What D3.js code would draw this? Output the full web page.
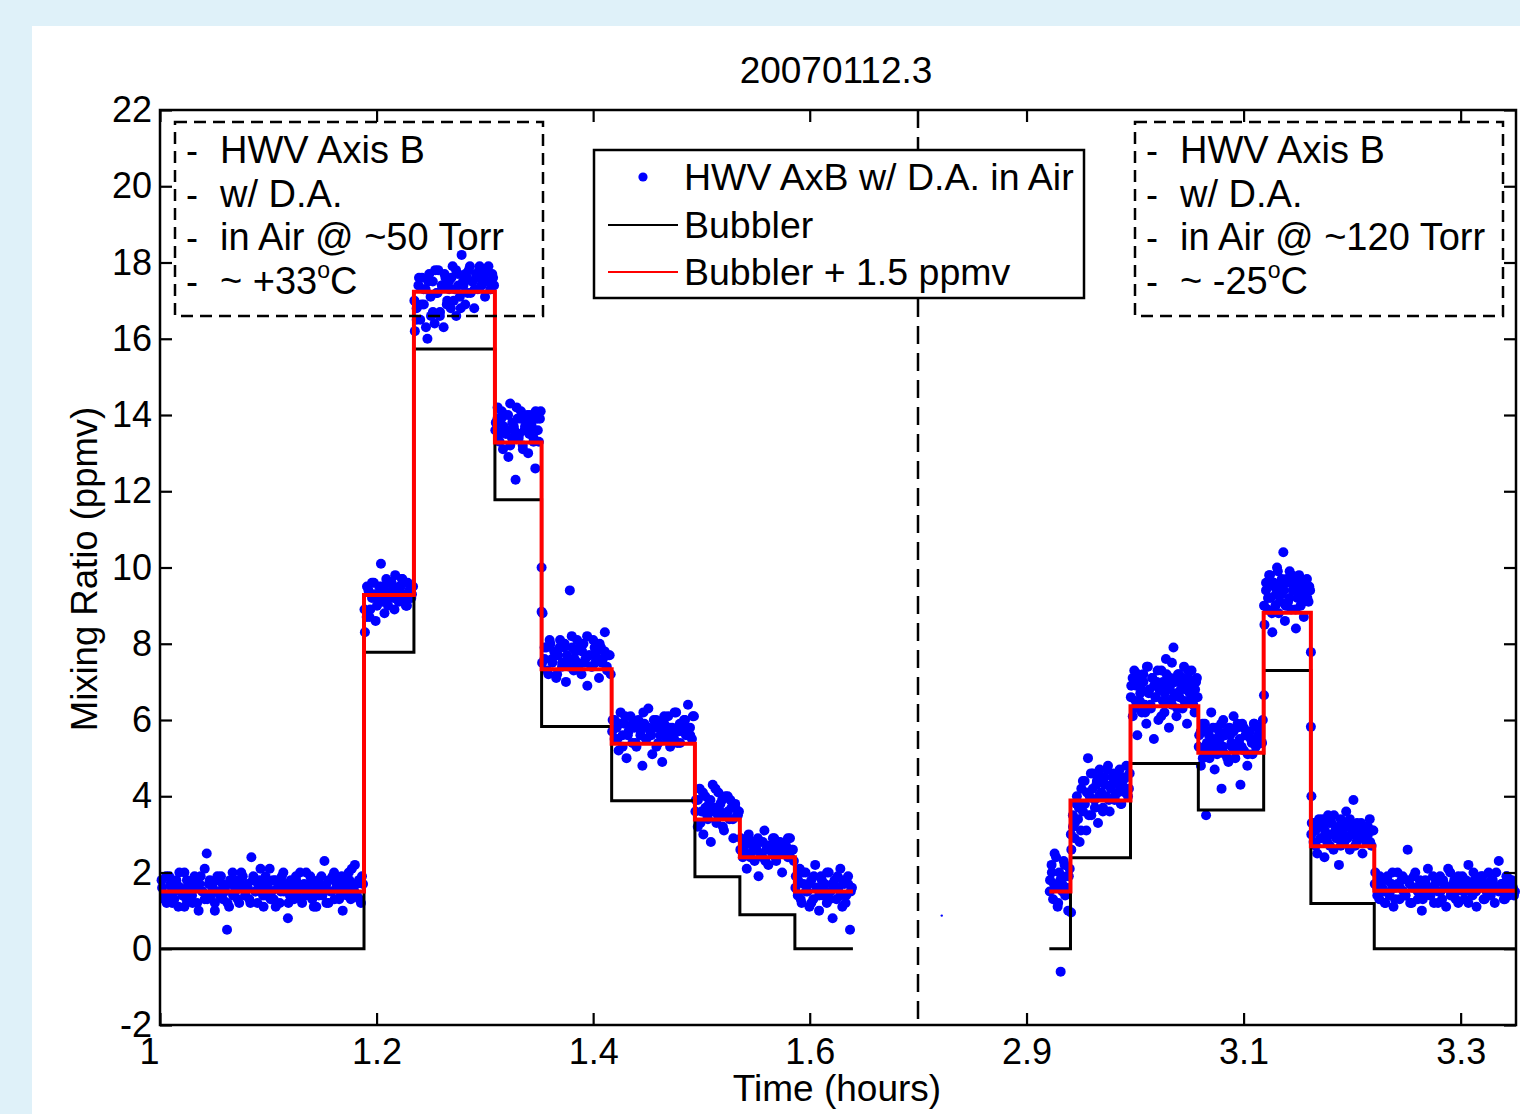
<!DOCTYPE html>
<html>
<head>
<meta charset="utf-8">
<script src="https://cdn.jsdelivr.net/npm/d3@7"></script>
<style>
body { margin: 0; background: #dff1f9; }
svg { display: block; font-family: "Liberation Sans", Arial, sans-serif; }
</style>
</head>
<body>
<svg id="chart" width="1520" height="1114"></svg>
<script>
// ---- data ----
// bubbler step times (hours) and levels (ppmv), left and right of the time break
var bubTimesL = [1.001, 1.1884, 1.2345, 1.3093, 1.3524, 1.4171, 1.4940, 1.5355, 1.5863, 1.6399];
var bubLevelsL = [0.0, 7.78, 15.73, 11.78, 5.83, 3.88, 1.89, 0.89, 0.0];
var redLevelsL = [1.5, 9.28, 17.23, 13.28, 7.33, 5.38, 3.39, 2.40, 1.5];

var bubTimesR = [2.921, 2.9405, 2.9958, 3.0583, 3.1185, 3.162, 3.2204, 3.351];
var bubLevelsR = [0.0, 2.39, 4.86, 3.64, 7.30, 1.19, 0.0];
var redLevelsR = [1.5, 3.89, 6.36, 5.14, 8.81, 2.69, 1.52];

// HWV samples, one array per bubbler step (in time order), two interleaved passes
var hwvL1 = [1.6,1.3,1.9,1.4,1.7,1.2,1.5,1.8,1.1,1.6,
  1.4,2.0,1.3,1.7,1.5,1.2,1.8,1.6,1.0,1.9,
  1.5,1.3,2.5,1.7,1.4,1.6,1.2,1.8,1.5,1.9,
  1.3,1.6,0.5,1.1,1.7,1.4,1.5,1.8,1.2,2.0,
  1.6,1.4,1.7,1.3,2.4,1.9,1.5,1.2,1.8,1.6,
  1.1,1.4,1.7,2.1,1.5,1.3,1.8,1.6,1.2,1.9,
  1.5,1.7,0.8,1.4,1.6,1.3,1.8,1.5,2.0,1.2,
  1.7,1.4,1.6,1.9,1.3,1.5,1.1,1.8,1.6,1.4,
  2.3,1.7,1.2,1.5,1.9,1.3,1.6,1.8,1.4,1.0,
  1.7,1.5,2.0,1.3,1.6,2.2,1.4,1.8,1.2,1.7];
var hwvL1b = [1.8,1.4,1.2,1.9,1.6,1.3,1.7,2.0,1.5,1.1,
  1.8,1.6,1.4,1.9,1.2,1.7,1.5,2.1,1.3,1.8,
  1.6,1.0,1.9,1.4,1.7,1.5,1.2,1.8,2.0,1.6,
  1.3,1.7,1.9,1.4,1.6,1.2,1.8,1.5,1.7,2.1,
  1.4,1.9,1.6,1.3,1.8,1.1,1.7,1.5,2.0,1.6,
  1.2,1.8,1.4,1.9,1.7,1.3,1.6,2.0,1.5,1.8,
  1.1,1.7,1.4,1.9,1.6,1.2,1.8,1.5,2.0,1.7,
  1.3,1.9,1.6,1.4,1.8,2.1,1.5,1.7,1.3,1.9];
var hwvL2 = [8.3,8.7,9.4,8.9,9.2,9.6,8.6,9.3,9.5,10.1,9.1,9.4,9.7,9.0,
  9.3,9.6,9.2,9.8,9.4,9.1,9.5,9.7,9.3,9.0,9.6,9.4,9.2,9.5];
var hwvL2b = [8.9,9.5,8.7,9.6,9.3,9.0,9.1,9.5,8.8,9.2,9.6,9.4,8.9,9.3,9.5,9.7,9.2,9.0,9.4,9.3];
var hwvL3 = [16.2,16.8,17.4,16.5,17.6,16.9,17.3,16.0,17.7,16.6,
  17.5,16.4,17.2,17.8,16.7,17.4,16.3,17.6,17.0,17.5,
  16.8,17.9,17.3,16.6,17.7,17.1,18.2,17.4,16.9,17.6,
  17.8,17.2,17.5,16.8,17.7,17.3,17.9,17.4,17.6,17.1,
  17.8,17.5,17.3,17.7,17.4];
var hwvL3b = [17.0,16.5,17.6,16.9,17.3,16.3,17.5,17.1,16.7,17.8,17.2,16.6,17.4,17.7,16.9,
  17.3,17.6,17.0,17.8,17.4,16.8,17.5,17.7,17.2,17.9,17.5,17.3,17.6,17.8,17.4,
  17.7,17.5,17.9,17.3,17.6];
var hwvL4 = [13.8,14.2,13.5,13.9,13.1,14.0,13.6,12.9,14.3,13.4,13.7,12.3,13.9,
  13.5,14.1,13.2,13.6,13.8,13.0,14.0,13.7,13.4,12.6,13.9,13.3,14.1];
var hwvL4b = [13.6,13.9,13.3,14.1,13.7,13.5,14.0,13.2,13.8,13.6,14.2,13.4,13.9,13.1,
  13.7,14.0,13.5,13.8,13.3,14.1,13.6,13.9];
var hwvL5 = [8.8,7.6,7.9,7.2,8.0,7.5,7.8,7.1,7.7,8.1,7.4,7.9,7.0,7.6,
  9.4,8.2,7.3,7.8,7.5,7.9,7.2,8.0,7.6,6.9,7.7,7.4,8.1,7.5,7.8,7.1,
  7.9,7.6,8.3,7.4,7.7,7.2];
var hwvL5b = [7.5,7.9,7.3,8.1,7.6,7.8,7.2,7.9,7.5,8.0,7.7,7.4,7.9,7.6,8.1,7.3,
  7.8,7.5,8.2,7.7,7.4,7.9,7.6,8.0,7.5,7.8,7.3,7.7];
var hwvL6 = [6.0,5.5,5.8,5.2,6.2,5.6,5.9,5.0,5.7,6.1,
  5.4,5.8,5.3,6.0,5.6,4.8,5.9,5.5,6.3,5.7,
  5.1,5.8,6.0,5.4,5.6,4.9,5.9,5.7,6.1,5.3,
  5.8,5.5,6.2,5.7,5.4,5.9,6.0,5.6,6.4,5.8,5.5,6.1];
var hwvL6b = [5.7,6.0,5.5,5.9,5.3,6.1,5.6,5.8,6.0,5.4,5.9,5.7,6.2,5.5,5.8,5.6,
  6.0,5.3,5.9,5.7,6.1,5.5,5.8,5.6,6.2,5.4,5.9,5.7,6.0,5.8,5.6,6.1];
var hwvL7 = [3.9,3.2,4.2,3.6,3.0,4.0,3.5,3.8,2.8,4.3,3.7,3.3,
  4.1,3.6,3.9,3.1,3.5,4.0,3.4,3.7,2.9,3.8,3.5,3.6];
var hwvL7b = [3.6,3.9,3.3,4.1,3.7,3.4,3.9,3.6,4.2,3.5,3.8,3.2,4.0,3.6,3.9,3.4,3.7,3.5];
var hwvL8 = [2.9,2.4,2.7,2.1,3.0,2.5,2.8,2.3,2.6,1.9,2.8,2.4,3.1,2.6,
  2.2,2.7,2.5,2.9,2.3,2.6,2.8,2.0,2.5,2.7,2.4,2.9,2.6,2.3];
var hwvL8b = [2.6,2.8,2.5,2.9,2.4,2.7,2.6,2.9,2.5,2.8,2.3,2.7,2.6,2.9,2.4,2.8,
  2.6,2.5,2.7,2.9,2.4,2.6];
var hwvL9 = [1.9,1.4,2.1,1.2,1.7,2.0,1.5,1.1,1.8,1.3,2.2,1.6,1.0,1.9,1.4,
  1.7,1.2,2.0,1.5,0.8,1.8,1.3,1.6,2.1,1.1,1.7,1.4,1.9,0.5,1.6];
var hwvL9b = [1.6,1.8,1.3,2.0,1.5,1.7,1.2,1.9,1.6,1.4,1.8,1.5,2.0,1.3,1.7,1.6,
  1.9,1.4,1.8,1.2,1.7,1.5];

var hwvR1 = [1.8,2.2,1.3,2.5,1.6,1.1,2.0,-0.6,1.7,2.3,1.4,1.9,1.0,2.1];
var hwvR1b = [1.5,2.0,1.7,2.4,1.2,1.8,1.5,2.2,1.6,1.9];
var hwvR2 = [2.6,3.2,2.9,3.8,3.4,2.8,4.2,3.6,4.4,3.1,
  5.0,4.0,3.5,4.6,3.9,4.3,3.3,4.7,4.1,3.7,
  4.5,4.0,4.8,3.6,4.3,4.6,3.9,4.4,4.1,4.7,
  3.8,4.5,4.2,4.8,4.0,4.6];
var hwvR2b = [3.0,3.5,3.3,4.0,3.7,3.1,4.4,3.8,4.1,3.5,4.6,4.2,3.7,4.4,4.0,4.5,
  3.6,4.3,4.7,3.9,4.2,4.5,4.0,4.6,4.3,3.8,4.4,4.1,4.5,4.2];
var hwvR3 = [6.9,6.1,7.3,6.5,5.6,7.0,6.7,6.2,7.2,6.4,
  5.9,7.4,6.8,6.3,7.1,5.5,6.6,7.0,6.0,6.9,
  7.3,6.5,6.2,7.6,6.8,5.8,7.1,6.4,7.9,6.7,
  6.1,7.2,6.6,7.0,6.3,7.4,6.8,5.9,7.1,6.5,
  7.3,6.9,6.2,7.0,6.6];
var hwvR3b = [6.6,7.1,6.3,6.9,7.2,6.5,6.8,7.0,6.2,7.4,6.7,6.4,7.1,6.9,6.6,7.3,
  6.8,6.1,7.0,6.7,7.2,6.5,6.9,7.5,6.6,7.0,6.3,7.2,6.8,7.1,6.5,6.9,7.3,6.7,
  7.0,6.4,6.8,7.1];
var hwvR4 = [5.6,4.8,5.9,5.2,3.5,5.7,5.0,6.2,5.4,4.7,
  5.8,5.3,5.5,4.2,6.0,5.1,5.7,4.9,5.6,5.3,
  6.1,5.0,5.8,5.4,4.3,5.9,5.2,5.6,4.8,5.7,
  5.5,5.1,5.9,5.3,5.8,5.6,5.4,6.0];
var hwvR4b = [5.3,5.7,5.0,5.9,5.4,5.6,5.2,5.8,5.5,5.1,5.7,5.9,5.3,5.6,5.0,5.8,
  5.4,5.7,5.2,5.9,5.5,5.3,5.8,5.6,5.1,5.7,5.4,5.9,5.5,5.6,5.8,5.4];
var hwvR5 = [8.5,9.4,8.9,9.8,9.2,8.3,9.6,9.0,10.0,8.8,
  9.5,9.3,10.4,8.6,9.7,9.1,9.9,8.9,9.4,9.6,
  8.4,9.2,9.8,9.0,9.5,8.7,9.3,9.7,9.1,9.4];
var hwvR5b = [9.0,9.6,9.2,9.8,8.8,9.5,9.3,9.9,9.1,9.7,9.4,9.0,9.6,9.2,9.8,9.4,
  8.9,9.5,9.3,9.7,9.1,9.6,9.2,9.5];
var hwvR6 = [3.3,2.8,3.1,2.5,3.4,2.9,3.2,2.4,3.0,3.5,
  2.7,3.3,2.6,3.1,2.9,2.2,3.4,3.0,2.8,3.6,
  3.2,2.6,3.0,3.9,2.7,3.3,2.9,3.1,2.5,3.2,
  2.8,3.0,3.4,2.7,3.1];
var hwvR6b = [3.0,3.3,2.7,3.2,2.9,3.4,3.1,2.8,3.3,3.0,3.5,2.9,3.2,2.7,3.1,3.3,
  2.9,3.4,3.0,3.2,2.8,3.1,3.3,2.9,3.0,3.2,2.8,3.1];
var hwvR7 = [2.0,1.6,1.3,1.8,1.5,1.2,1.9,1.4,1.7,1.1,
  1.6,2.0,1.3,1.8,1.5,1.4,2.6,1.7,1.2,1.9,
  1.6,1.3,1.8,1.0,1.5,1.7,2.1,1.4,1.6,1.2,
  1.8,1.5,1.9,1.3,1.7,1.1,1.6,2.0,1.4,1.8,
  1.5,1.2,1.7,1.9,1.3,1.6,2.2,1.5,1.4,1.8,
  1.1,1.7,1.6,1.9,1.3,1.5,2.0,1.4,1.8,1.2,
  1.6,2.3,1.5,1.7,1.3,1.9,1.4,1.8,1.6,1.5];
var hwvR7b = [1.7,1.4,1.9,1.6,1.2,1.8,1.5,2.0,1.3,1.7,
  1.6,1.9,1.4,1.8,1.2,1.6,2.0,1.5,1.7,1.3,
  1.8,1.6,1.4,1.9,1.7,1.2,1.5,1.8,1.6,2.1,
  1.4,1.7,1.3,1.9,1.6,1.5,1.8,1.2,1.7,2.0,
  1.5,1.6,1.9,1.3,1.7,1.4,1.8,1.6,2.0,1.5,
  1.7,1.3,1.9,1.6,1.8,1.4];

// single samples caught on the transitions [time, ppmv]
var hwvTransit = [[1.3524, 10.0], [1.3524, 8.84], [2.9410, 0.95], [3.1188, 6.65],
  [3.1620, 7.78], [3.1620, 5.82], [3.1625, 4.0]];
var hwvStray = [[2.8219, 0.87]];

var xTicks = [1, 1.2, 1.4, 1.6, 2.9, 3.1, 3.3];
var yTicks = [-2, 0, 2, 4, 6, 8, 10, 12, 14, 16, 18, 20, 22];

var titleText = "20070112.3";
var legendLabels = ["HWV AxB w/ D.A. in Air", "Bubbler", "Bubbler + 1.5 ppmv"];
var noteLeft = ["HWV Axis B", "w/ D.A.", "in Air @ ~50 Torr", "~ +33"];
var noteRight = ["HWV Axis B", "w/ D.A.", "in Air @ ~120 Torr", "~ -25"];

// ---- drawing ----
const width = 1520;
const height = 1114;
const fontSize = 36;
const svg = d3.select('#chart');

svg.append('rect').attr('width', width).attr('height', height).attr('fill', '#dff1f9');
svg.append('rect').attr('x', 32).attr('y', 26).attr('width', width - 32).attr('height', height - 26).attr('fill', '#fff');

// broken time axis: 1.7 .. 2.8 h squeezed to nothing
const x = d3.scaleLinear().domain([1, 1.7, 2.8, 3.351]).range([160, 918, 918, 1516]);
const y = d3.scaleLinear().domain([-2, 22]).range([1025, 110]);

// samples are evenly spaced in time inside each bubbler step
function spread(times, groups, shift) {
    var pts = [];
    groups.forEach(function(vals, k) {
        var t0 = times[k], t1 = times[k + 1];
        vals.forEach(function(v, i) {
            pts.push([t0 + (i + shift) * (t1 - t0) / vals.length, v]);
        });
    });
    return pts;
}

var hwvPoints = spread(bubTimesL, [hwvL1, hwvL2, hwvL3, hwvL4, hwvL5, hwvL6, hwvL7, hwvL8, hwvL9], 0.5)
    .concat(spread(bubTimesL, [hwvL1b, hwvL2b, hwvL3b, hwvL4b, hwvL5b, hwvL6b, hwvL7b, hwvL8b, hwvL9b], 0.2))
    .concat(spread(bubTimesR, [hwvR1, hwvR2, hwvR3, hwvR4, hwvR5, hwvR6, hwvR7], 0.5))
    .concat(spread(bubTimesR, [hwvR1b, hwvR2b, hwvR3b, hwvR4b, hwvR5b, hwvR6b, hwvR7b], 0.2))
    .concat(hwvTransit);

function steps(times, levels) {
    var pts = levels.map(function(v, i) { return [times[i], v]; });
    pts.push([times[times.length - 1], levels[levels.length - 1]]);
    return pts;
}

const line = d3.line()
    .x(d => x(d[0]))
    .y(d => y(d[1]))
    .curve(d3.curveStepAfter);

const plot = svg.append('g');

plot.selectAll('circle.hwv')
    .data(hwvPoints)
    .enter().append('circle')
    .attr('class', 'hwv')
    .attr('cx', d => x(d[0]))
    .attr('cy', d => y(d[1]))
    .attr('r', 5)
    .attr('fill', '#0000ff');

plot.selectAll('circle.stray')
    .data(hwvStray)
    .enter().append('circle')
    .attr('class', 'stray')
    .attr('cx', d => x(d[0]))
    .attr('cy', d => y(d[1]))
    .attr('r', 1.2)
    .attr('fill', '#0000ff');

[steps(bubTimesL, bubLevelsL), steps(bubTimesR, bubLevelsR)].forEach(function(d) {
    plot.append('path').datum(d).attr('d', line)
        .attr('fill', 'none').attr('stroke', '#000').attr('stroke-width', 3);
});
[steps(bubTimesL, redLevelsL), steps(bubTimesR, redLevelsR)].forEach(function(d) {
    plot.append('path').datum(d).attr('d', line)
        .attr('fill', 'none').attr('stroke', '#ff0000').attr('stroke-width', 4);
});

// break marker
svg.append('line')
    .attr('x1', x(1.7)).attr('x2', x(1.7))
    .attr('y1', y(22)).attr('y2', y(-2))
    .attr('stroke', '#000').attr('stroke-width', 2.5)
    .attr('stroke-dasharray', '18,9');

// axes
function styleAxis(g) {
    g.attr('font-family', null).attr('font-size', null);
    g.selectAll('.tick line').attr('stroke-width', 2.2);
    g.selectAll('text').attr('font-size', fontSize).attr('fill', '#000');
    g.select('.domain').remove();
}

svg.append('g').attr('transform', 'translate(0,' + y(-2) + ')')
    .call(d3.axisBottom(x).tickValues(xTicks).tickSizeInner(-12).tickSizeOuter(0).tickPadding(13).tickFormat(d => String(d)))
    .call(styleAxis)
    .selectAll('text').filter(d => d === 1).attr('dx', -11);

svg.append('g').attr('transform', 'translate(0,' + y(22) + ')')
    .call(d3.axisTop(x).tickValues(xTicks).tickSizeInner(-12).tickSizeOuter(0).tickFormat(''))
    .call(styleAxis);

svg.append('g').attr('transform', 'translate(' + x(1) + ',0)')
    .call(d3.axisLeft(y).tickValues(yTicks).tickSizeInner(-12).tickSizeOuter(0).tickPadding(8).tickFormat(d => String(d)))
    .call(styleAxis);

svg.append('g').attr('transform', 'translate(' + x(3.351) + ',0)')
    .call(d3.axisRight(y).tickValues(yTicks).tickSizeInner(-12).tickSizeOuter(0).tickFormat(''))
    .call(styleAxis);

svg.append('rect')
    .attr('x', x(1)).attr('y', y(22))
    .attr('width', x(3.351) - x(1)).attr('height', y(-2) - y(22))
    .attr('fill', 'none').attr('stroke', '#000').attr('stroke-width', 2.5);

// titles
svg.append('text').attr('x', 836).attr('y', 83).attr('text-anchor', 'middle')
    .attr('font-size', 37).text(titleText);
svg.append('text').attr('x', 837).attr('y', 1101).attr('text-anchor', 'middle')
    .attr('font-size', 37).text('Time (hours)');
svg.append('text').attr('transform', 'translate(97,569) rotate(-90)').attr('text-anchor', 'middle')
    .attr('font-size', 36.5).text('Mixing Ratio (ppmv)');

// dashed note boxes
function noteBox(x0, lines) {
    var g = svg.append('g').attr('transform', 'translate(' + x0 + ',122)');
    g.append('rect').attr('width', 368).attr('height', 194)
        .attr('fill', 'none').attr('stroke', '#000').attr('stroke-width', 2.5)
        .attr('stroke-dasharray', '12,7');
    lines.forEach(function(s, i) {
        var yy = 41 + i * 43.5;
        g.append('text').attr('x', 11).attr('y', yy).attr('font-size', fontSize).text('-');
        var t = g.append('text').attr('x', 45).attr('y', yy).attr('font-size', 38).text(s);
        if (i === lines.length - 1) {
            t.append('tspan').attr('font-size', 23).attr('dy', -16).text('o');
            t.append('tspan').attr('dy', 16).text('C');
        }
    });
}
noteBox(175, noteLeft);
noteBox(1135, noteRight);

// legend
var leg = svg.append('g').attr('transform', 'translate(594,150)');
leg.append('rect').attr('width', 490).attr('height', 148)
    .attr('fill', '#fff').attr('stroke', '#000').attr('stroke-width', 2.5);
var rowY = [27, 75, 122];
leg.append('circle').attr('cx', 49).attr('cy', rowY[0]).attr('r', 4.6).attr('fill', '#0000ff');
leg.append('line').attr('x1', 14).attr('x2', 84).attr('y1', rowY[1]).attr('y2', rowY[1])
    .attr('stroke', '#000').attr('stroke-width', 2.2);
leg.append('line').attr('x1', 14).attr('x2', 84).attr('y1', rowY[2]).attr('y2', rowY[2])
    .attr('stroke', '#ff0000').attr('stroke-width', 2.2);
leg.selectAll('text.lab')
    .data(legendLabels)
    .enter().append('text')
    .attr('class', 'lab')
    .attr('x', 90)
    .attr('y', (d, i) => rowY[i] + 13)
    .attr('font-size', 37.5)
    .text(d => d);
</script>
</body>
</html>
